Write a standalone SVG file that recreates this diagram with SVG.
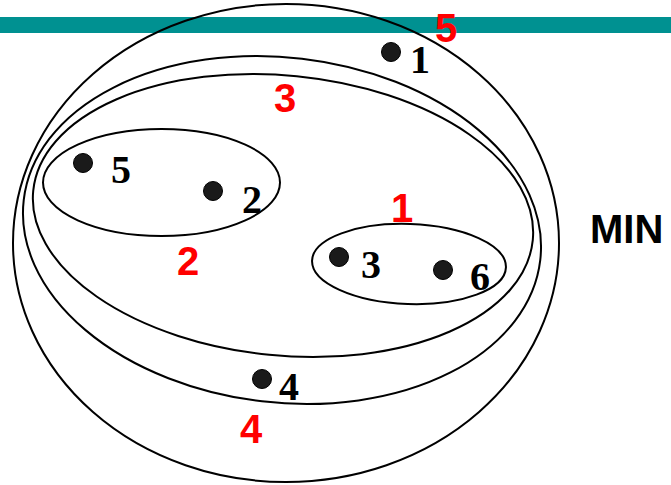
<svg xmlns="http://www.w3.org/2000/svg" width="671" height="485" viewBox="0 0 671 485">
  <style>
    .ring { fill: none; stroke: #000; stroke-width: 2; }
    .dot { fill: #1a1a1a; stroke: #000; stroke-width: 1; }
    .pt { font-family: "Liberation Serif", "Times New Roman", serif; font-weight: bold; font-size: 40px; fill: #000; }
    .lvl { font-family: "Liberation Sans", Arial, sans-serif; font-weight: bold; font-size: 40px; fill: #ff0000; text-anchor: middle; }
    .title { font-family: "Liberation Sans", Arial, sans-serif; font-weight: bold; font-size: 40px; fill: #000; }
  </style>
  <rect id="bar" x="0" y="17" width="671" height="16" fill="#009191"/>
  <g id="clusters">
    <g id="cluster5">
      <ellipse class="ring" cx="286" cy="243" rx="273" ry="239"/>
      <text class="lvl" x="446" y="42">5</text>
    </g>
    <g id="cluster4">
      <ellipse class="ring" cx="282" cy="230" rx="260" ry="172.5" transform="rotate(6.65 282 230)"/>
      <text class="lvl" x="251" y="443">4</text>
    </g>
    <g id="cluster3">
      <ellipse class="ring" cx="283" cy="215.5" rx="251" ry="140" transform="rotate(5.65 283 215.5)"/>
      <text class="lvl" x="285" y="112">3</text>
    </g>
    <g id="cluster2">
      <ellipse class="ring" cx="161.5" cy="182.5" rx="118.5" ry="53.5"/>
      <text class="lvl" x="188" y="275">2</text>
    </g>
    <g id="cluster1">
      <ellipse class="ring" cx="409" cy="264" rx="97" ry="40" transform="rotate(2 409 264)"/>
      <text class="lvl" x="402" y="222">1</text>
    </g>
  </g>
  <g id="points">
    <g id="p1"><circle class="dot" cx="391" cy="52" r="9.5"/><text class="pt" x="410" y="73">1</text></g>
    <g id="p5"><circle class="dot" cx="83" cy="163" r="9.5"/><text class="pt" x="111" y="183">5</text></g>
    <g id="p2"><circle class="dot" cx="213" cy="191" r="9.5"/><text class="pt" x="242" y="213">2</text></g>
    <g id="p3"><circle class="dot" cx="339" cy="257" r="9.5"/><text class="pt" x="361" y="278">3</text></g>
    <g id="p6"><circle class="dot" cx="443" cy="270" r="9.5"/><text class="pt" x="470" y="290">6</text></g>
    <g id="p4"><circle class="dot" cx="262" cy="379" r="9.5"/><text class="pt" x="279" y="400">4</text></g>
  </g>
  <g id="connectors"/>
  <text class="title" x="590" y="243">MIN</text>
</svg>
